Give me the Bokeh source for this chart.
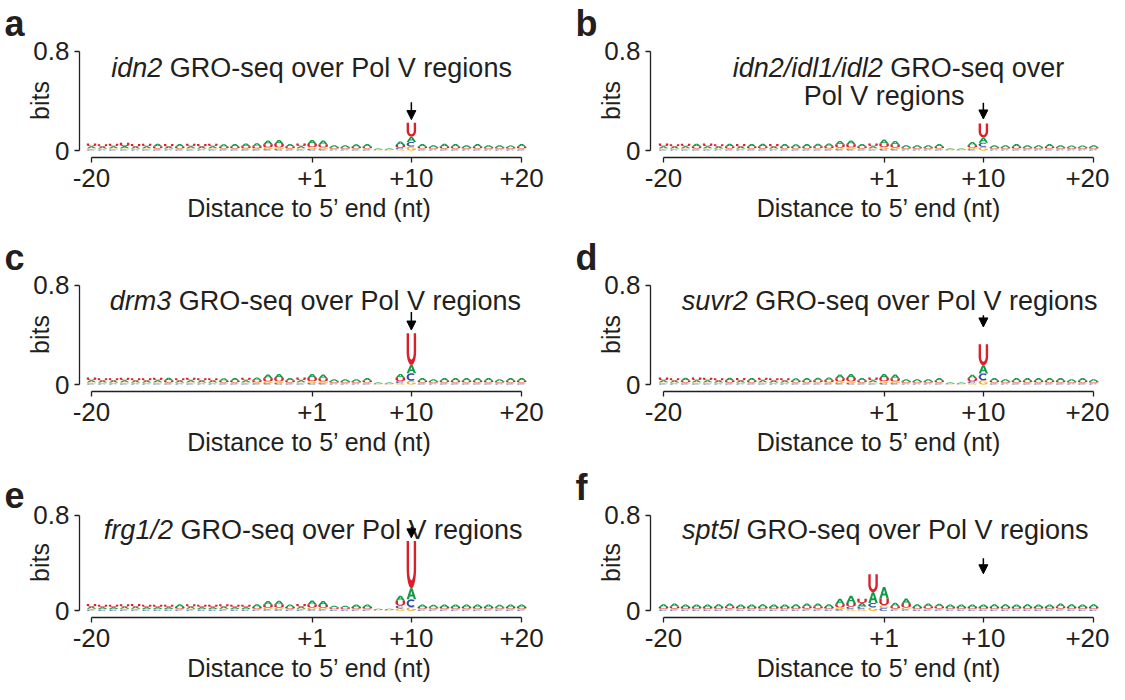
import math
from bokeh.plotting import figure
from bokeh.models import Label, Arrow, NormalHead, FixedTicker, Range1d
from bokeh.layouts import gridplot
from bokeh.embed import file_html
from bokeh.resources import INLINE

# ---------------- data ----------------
positions = list(range(40))                 # -20..-1, +1..+20
tick_positions = [0, 20, 29, 39]
tick_labels = ["-20", "+1", "+10", "+20"]
y_ticks = [0, 0.8]
y_tick_labels = ["0", "0.8"]
panel_letters = ["a", "b", "c", "d", "e", "f"]
genotypes = ["idn2", "idn2/idl1/idl2", "drm3", "suvr2", "frg1/2", "spt5l"]
arrow_position = 29
arrow_tail = [0.39, 0.385, 0.585, 0.56, 0.70, 0.44]
arrow_tip = [0.25, 0.255, 0.44, 0.465, 0.61, 0.31]

A_a = [.017,.016,.017,.018,.016,.017,.022,.016,.022,.017,.016,.017,.021,.022,.022,.023,.032,.034,.021,.017,.033,.032,.015,.015,.020,.021,.006,.006,.028,.042,.021,.016,.022,.021,.016,.021,.016,.016,.015,.021]
C_a = [.008,.007,.008,.008,.007,.008,.008,.007,.008,.008,.007,.008,.008,.008,.009,.009,.012,.013,.008,.008,.013,.012,.007,.007,.008,.008,.003,.003,.013,.038,.008,.007,.008,.008,.007,.008,.007,.007,.007,.008]
G_a = [.010,.009,.010,.010,.009,.010,.009,.009,.009,.010,.009,.010,.009,.009,.010,.010,.014,.014,.009,.010,.015,.014,.008,.008,.009,.009,.004,.004,.012,.032,.009,.008,.009,.009,.008,.009,.008,.008,.008,.009]
U_a = [.021,.019,.020,.027,.020,.019,.015,.020,.014,.020,.021,.019,.013,.014,.015,.016,.024,.025,.015,.021,.024,.023,.012,.012,.013,.014,.004,.004,.020,.112,.014,.012,.015,.014,.012,.014,.012,.012,.011,.014]

A_b = [.017,.016,.017,.022,.017,.016,.022,.016,.021,.022,.016,.021,.021,.022,.022,.023,.030,.032,.021,.017,.035,.031,.015,.015,.015,.021,.006,.005,.027,.042,.016,.015,.021,.016,.015,.021,.016,.015,.015,.016]
C_b = [.008,.007,.008,.008,.008,.007,.008,.007,.008,.008,.007,.008,.008,.008,.008,.009,.012,.012,.008,.008,.013,.012,.007,.007,.007,.008,.003,.003,.012,.034,.007,.007,.008,.007,.007,.008,.007,.007,.007,.007]
G_b = [.010,.009,.010,.009,.010,.009,.009,.009,.009,.009,.009,.009,.009,.009,.010,.010,.013,.014,.009,.010,.016,.013,.008,.008,.008,.009,.004,.004,.012,.030,.008,.008,.009,.008,.008,.009,.008,.008,.008,.008]
U_b = [.021,.019,.020,.015,.021,.019,.015,.020,.014,.015,.020,.014,.013,.014,.015,.015,.023,.024,.015,.021,.025,.022,.012,.012,.012,.014,.004,.004,.019,.112,.012,.012,.014,.012,.012,.014,.012,.011,.011,.012]

A_c = [.017,.016,.016,.017,.016,.016,.017,.022,.016,.017,.016,.016,.021,.022,.017,.023,.031,.033,.021,.017,.033,.032,.015,.015,.015,.021,.006,.006,.030,.066,.021,.015,.021,.022,.021,.021,.021,.015,.021,.021]
C_c = [.008,.007,.007,.008,.007,.007,.008,.008,.007,.008,.007,.007,.008,.008,.008,.009,.012,.013,.008,.008,.013,.012,.007,.007,.007,.008,.003,.003,.016,.062,.008,.007,.008,.008,.008,.008,.008,.007,.008,.008]
G_c = [.010,.009,.009,.010,.009,.009,.010,.009,.009,.010,.009,.009,.009,.009,.010,.010,.014,.014,.009,.010,.015,.014,.008,.008,.008,.009,.004,.004,.012,.030,.009,.008,.009,.009,.009,.009,.009,.008,.009,.009]
U_c = [.022,.019,.019,.020,.019,.019,.020,.015,.019,.020,.019,.019,.013,.014,.020,.015,.024,.025,.015,.021,.024,.023,.012,.012,.012,.014,.004,.004,.027,.256,.014,.012,.014,.014,.014,.014,.014,.012,.014,.014]

A_d = [.017,.016,.022,.017,.017,.016,.022,.016,.022,.017,.016,.016,.021,.022,.022,.023,.032,.033,.021,.017,.033,.032,.015,.015,.015,.021,.006,.006,.028,.066,.021,.015,.021,.021,.022,.021,.021,.015,.021,.015]
C_d = [.008,.007,.008,.008,.008,.007,.008,.007,.008,.008,.007,.007,.008,.008,.008,.009,.012,.013,.008,.008,.013,.012,.007,.007,.007,.008,.003,.003,.015,.056,.008,.007,.008,.008,.008,.008,.008,.007,.008,.007]
G_d = [.010,.009,.009,.010,.010,.009,.009,.009,.009,.010,.009,.009,.009,.009,.010,.010,.014,.014,.009,.010,.015,.014,.008,.008,.008,.009,.004,.004,.012,.034,.009,.008,.009,.009,.009,.009,.009,.008,.009,.008]
U_d = [.022,.019,.015,.021,.020,.019,.015,.020,.014,.020,.019,.019,.013,.014,.015,.015,.024,.025,.015,.021,.024,.023,.012,.012,.012,.014,.004,.004,.024,.170,.014,.012,.014,.014,.014,.014,.014,.012,.014,.012]

A_e = [.017,.016,.016,.017,.017,.016,.016,.016,.022,.017,.016,.016,.017,.016,.016,.022,.031,.033,.021,.017,.034,.032,.015,.015,.021,.021,.006,.006,.042,.092,.021,.020,.021,.021,.021,.021,.021,.020,.021,.021]
C_e = [.008,.007,.007,.008,.008,.007,.007,.007,.008,.008,.007,.007,.008,.007,.007,.008,.012,.013,.008,.008,.013,.012,.007,.007,.008,.008,.003,.003,.024,.066,.008,.008,.008,.008,.008,.008,.008,.008,.008,.008]
G_e = [.010,.009,.009,.010,.010,.009,.009,.009,.009,.010,.009,.009,.010,.009,.009,.009,.014,.014,.009,.010,.015,.014,.008,.008,.009,.009,.004,.004,.020,.030,.009,.009,.009,.009,.009,.009,.009,.009,.009,.009]
U_e = [.022,.019,.019,.020,.021,.019,.019,.019,.015,.020,.019,.019,.020,.019,.019,.015,.024,.025,.015,.021,.024,.023,.012,.012,.014,.014,.004,.004,.040,.395,.014,.013,.014,.014,.014,.014,.014,.013,.014,.014]

A_f = [.022,.026,.021,.021,.021,.022,.025,.021,.021,.022,.021,.021,.022,.025,.025,.022,.045,.060,.030,.090,.096,.030,.045,.022,.025,.024,.021,.021,.021,.021,.022,.022,.021,.022,.021,.021,.025,.022,.021,.022]
C_f = [.007,.008,.007,.007,.007,.007,.008,.007,.007,.007,.007,.007,.007,.008,.008,.007,.015,.020,.020,.035,.022,.008,.012,.007,.008,.008,.007,.007,.007,.007,.007,.007,.007,.007,.007,.007,.008,.007,.007,.007]
G_f = [.009,.010,.009,.009,.009,.009,.010,.009,.009,.009,.009,.009,.009,.010,.010,.009,.015,.015,.015,.030,.025,.010,.015,.009,.010,.010,.009,.009,.009,.009,.009,.009,.009,.009,.009,.009,.010,.009,.009,.009]
U_f = [.016,.018,.015,.015,.015,.016,.018,.015,.015,.016,.015,.015,.016,.018,.018,.016,.025,.030,.035,.150,.056,.020,.030,.016,.018,.017,.015,.015,.015,.015,.016,.016,.015,.016,.015,.015,.018,.016,.015,.016]

panel_data = [
    {"A": A_a, "C": C_a, "G": G_a, "U": U_a},
    {"A": A_b, "C": C_b, "G": G_b, "U": U_b},
    {"A": A_c, "C": C_c, "G": G_c, "U": U_c},
    {"A": A_d, "C": C_d, "G": G_d, "U": U_d},
    {"A": A_e, "C": C_e, "G": G_e, "U": U_e},
    {"A": A_f, "C": C_f, "G": G_f, "U": U_f},
]

# ---------------- style ----------------
FONT = "Liberation Sans"
INK = "#231f20"
COLORS = {"A": "#129a48", "C": "#2f4ea1", "G": "#f6a81c", "U": "#dc1f2a"}
TICK_FS = 26
AXIS_FS = 25
TITLE_FS = 27
LETTER_W = 0.86

# title placement: (italic part, regular part, centre in data x, baseline in bits)
title_lines = [
    [("idn2", "GRO-seq over Pol V regions", 19.95, 0.668)],
    [("idn2/idl1/idl2", "GRO-seq over", 21.3, 0.664), ("", "Pol V regions", 20.0, 0.44)],
    [("drm3", "GRO-seq over Pol V regions", 20.3, 0.672)],
    [("suvr2", "GRO-seq over Pol V regions", 20.5, 0.672)],
    [("frg1/2", "GRO-seq over Pol V regions", 20.1, 0.672)],
    [("spt5l", "GRO-seq over Pol V regions", 20.1, 0.672)],
]

ARIAL = {' ': 278, '/': 278, '-': 333, '1': 556, '2': 556, '3': 556, '5': 556, 'A': 667,
         'G': 778, 'O': 778, 'P': 667, 'R': 722, 'V': 667, 'a': 556, 'd': 556, 'e': 556,
         'f': 278, 'g': 556, 'i': 222, 'l': 222, 'm': 833, 'n': 556, 'o': 556, 'p': 556,
         'q': 556, 'r': 333, 's': 500, 't': 278, 'u': 556, 'v': 500}


def text_w(s, fs):
    return sum(ARIAL.get(ch, 556) for ch in s) * fs / 1000.0


def arc(cx, cy, rx, ry, a0, a1, n=18):
    out = []
    for k in range(n + 1):
        a = math.radians(a0 + (a1 - a0) * k / n)
        out.append((cx + rx * math.cos(a), cy + ry * math.sin(a)))
    return out


def shape(letter):
    if letter == "U":
        t, tb = 0.25, 0.17
        poly = ([(0, 1), (0, 0.42)] + arc(0.5, 0.42, 0.5, 0.42, 180, 360) +
                [(1, 1), (1 - t, 1), (1 - t, 0.42)] +
                arc(0.5, 0.42, 0.5 - t, 0.42 - tb, 360, 180) + [(t, 1)])
        return [[poly]]
    if letter == "A":
        outer = [(0, 0), (0.37, 1), (0.63, 1), (1, 0), (0.75, 0), (0.67, 0.26), (0.33, 0.26), (0.25, 0)]
        hole = [(0.4, 0.44), (0.6, 0.44), (0.5, 0.76)]
        return [[outer, hole]]
    if letter == "C":
        poly = arc(0.5, 0.5, 0.5, 0.5, 45, 315) + arc(0.5, 0.5, 0.28, 0.3, 315, 45)
        return [[poly]]
    poly = (arc(0.5, 0.5, 0.5, 0.5, 45, 360) + [(0.55, 0.5), (0.55, 0.36), (0.76, 0.36)] +
            arc(0.5, 0.5, 0.28, 0.3, 340, 45))
    return [[poly]]


SHAPES = {k: shape(k) for k in "ACGU"}


def place(letter, xc, y0, h):
    xs, ys = [], []
    for polygon in SHAPES[letter]:
        px, py = [], []
        for ring in polygon:
            px.append([xc - LETTER_W / 2 + u * LETTER_W for u, v in ring])
            py.append([y0 + v * h for u, v in ring])
        xs.append(px)
        ys.append(py)
    return xs, ys


def make_panel(k, width, height, left, right, bottom, px_per_unit, data_offset):
    frame_w = width - left - right
    x0 = -data_offset / px_per_unit
    x1 = x0 + frame_w / px_per_unit
    p = figure(width=width, height=height, output_backend="svg", toolbar_location=None,
               x_range=Range1d(x0, x1), y_range=Range1d(-0.056, 0.864),
               min_border_left=left, min_border_right=right, min_border_top=42,
               min_border_bottom=bottom)
    p.outline_line_color = None
    p.grid.visible = False
    p.background_fill_color = "white"
    p.border_fill_color = "white"

    # panel letter as the figure title
    p.title.text = panel_letters[k]
    p.title.align = "left"
    p.title.offset = -75
    p.title.standoff = 0
    p.title.text_font = FONT
    p.title.text_font_style = "bold"
    p.title.text_font_size = "36px"
    p.title.text_color = INK

    # logo letters, stacked smallest at the bottom
    d = panel_data[k]
    polys = {L: ([], []) for L in "ACGU"}
    for i in positions:
        stack = sorted("ACGU", key=lambda L: d[L][i])
        y0 = 0.0
        for L in stack:
            h = d[L][i]
            xs, ys = place(L, i, y0, h)
            polys[L][0].append(xs)
            polys[L][1].append(ys)
            y0 += h
    for L in "GCAU":
        p.multi_polygons(xs=polys[L][0], ys=polys[L][1], fill_color=COLORS[L], line_color=None)

    # axes
    xa = p.xaxis[0]
    xa.ticker = FixedTicker(ticks=tick_positions)
    xa.major_label_overrides = {t: s for t, s in zip(tick_positions, tick_labels)}
    xa.bounds = (tick_positions[0], tick_positions[-1])
    xa.axis_label = "Distance to 5\u2019 end (nt)"
    ya = p.yaxis[0]
    ya.ticker = FixedTicker(ticks=y_ticks)
    ya.major_label_overrides = {t: s for t, s in zip(y_ticks, y_tick_labels)}
    ya.bounds = (y_ticks[0], y_ticks[-1])
    ya.axis_label = "bits"
    for ax in (xa, ya):
        ax.axis_line_color = INK
        ax.axis_line_width = 1.3
        ax.major_tick_line_color = INK
        ax.major_tick_line_width = 1.3
        ax.major_tick_in = 0
        ax.major_tick_out = 5
        ax.minor_tick_line_color = None
        ax.major_label_text_font = FONT
        ax.major_label_text_font_size = f"{TICK_FS}px"
        ax.major_label_text_color = INK
        ax.axis_label_text_font = FONT
        ax.axis_label_text_font_size = f"{AXIS_FS}px"
        ax.axis_label_text_font_style = "normal"
        ax.axis_label_text_color = INK
    xa.major_label_standoff = 6
    xa.axis_label_standoff = 4
    ya.major_label_standoff = 5
    ya.axis_label_standoff = -24

    # title (italic genotype + regular remainder)
    for ital, rest, xc, yb in title_lines[k]:
        wi = text_w(ital + " ", TITLE_FS) if ital else 0.0
        total = wi + text_w(rest, TITLE_FS)
        if ital:
            p.add_layout(Label(x=xc, y=yb, x_offset=-total / 2, text=ital, text_font=FONT,
                               text_font_style="italic", text_font_size=f"{TITLE_FS}px",
                               text_color=INK, text_align="left", text_baseline="alphabetic"))
        p.add_layout(Label(x=xc, y=yb, x_offset=-total / 2 + wi, text=rest, text_font=FONT,
                           text_font_size=f"{TITLE_FS}px", text_color=INK,
                           text_align="left", text_baseline="alphabetic"))

    # arrow marking +10
    p.add_layout(Arrow(end=NormalHead(size=9, fill_color="black", line_color="black", line_width=1),
                       x_start=arrow_position, y_start=arrow_tail[k],
                       x_end=arrow_position, y_end=arrow_tip[k],
                       line_color="black", line_width=1.5))
    return p


row_heights = [234, 230, 220]
row_bottoms = [77, 73, 63]
figs = []
for r in range(3):
    left_p = make_panel(2 * r, 570, row_heights[r], 79, 31, row_bottoms[r], 11.03, 12)
    right_p = make_panel(2 * r + 1, 539, row_heights[r], 80, 2, row_bottoms[r], 11.03, 13)
    figs.append([left_p, right_p])

layout = gridplot(figs, toolbar_location=None)
open("out.html", "w").write(file_html(layout, INLINE))
